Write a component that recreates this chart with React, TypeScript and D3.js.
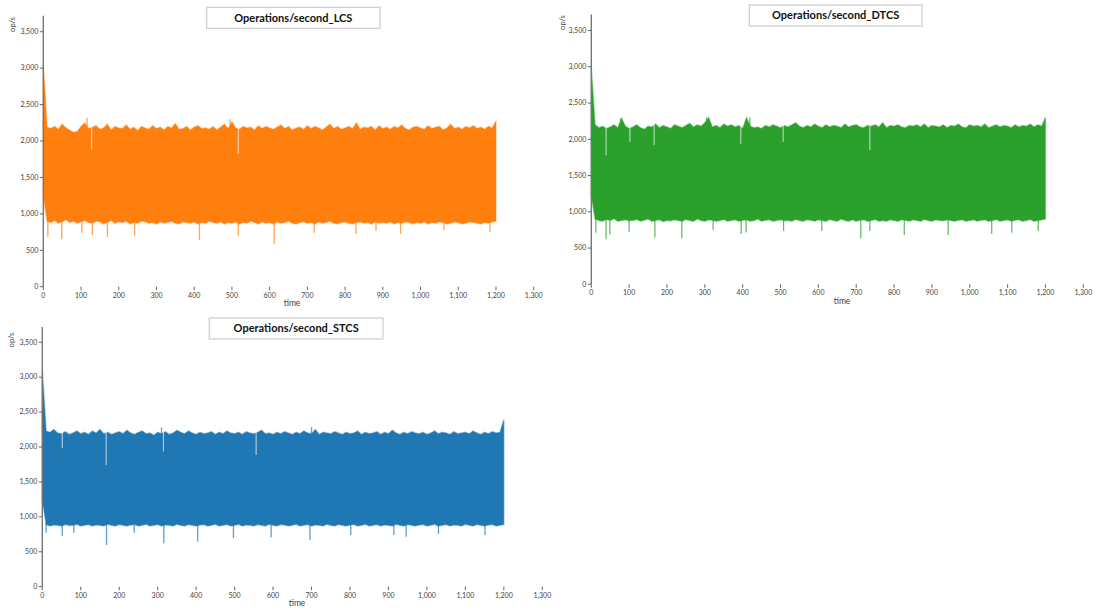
import React from 'react';
import * as d3 from 'd3';

// ---------- DATA ----------
// bucket times, seconds (one envelope value every 10 s)
const BUCKET_TIMES: number[] = d3.range(0, 1201, 10);
const X_TICKS = [0, 100, 200, 300, 400, 500, 600, 700, 800, 900, 1000, 1100, 1200, 1300];
const Y_TICKS = [0, 500, 1000, 1500, 2000, 2500, 3000, 3500];

// LCS
const LCS_HIGH = [
  3050, 2190, 2170, 2200, 2160, 2230, 2180, 2150, 2120, 2130,
  2200, 2250, 2170, 2190, 2210, 2160, 2180, 2230, 2150, 2200,
  2180, 2170, 2220, 2160, 2190, 2140, 2200, 2180, 2160, 2210,
  2170, 2190, 2150, 2200, 2180, 2240, 2160, 2170, 2200, 2150,
  2190, 2210, 2170, 2180, 2160, 2200, 2150, 2190, 2230, 2170,
  2260, 2180, 2160, 2200, 2180, 2190, 2150, 2210, 2170, 2200,
  2180, 2160, 2190, 2220, 2170, 2200, 2150, 2180, 2190, 2160,
  2210, 2170, 2200, 2180, 2150, 2190, 2230, 2170, 2200, 2160,
  2180, 2200, 2170, 2250, 2160, 2190, 2180, 2200, 2150, 2210,
  2170, 2190, 2160, 2200, 2180, 2220, 2170, 2150, 2190, 2200,
  2180, 2160, 2210, 2170, 2190, 2200, 2150, 2180, 2230, 2170,
  2190, 2160, 2200, 2180, 2210, 2170, 2190, 2160, 2200, 2180,
  2270,
];
const LCS_LOW = [
  1250, 900, 880, 910, 870, 890, 920, 880, 900, 870,
  890, 910, 880, 870, 900, 890, 860, 880, 910, 870,
  890, 880, 900, 860, 880, 870, 900, 890, 870, 880,
  860, 890, 870, 880, 900, 870, 860, 890, 880, 870,
  890, 860, 880, 870, 900, 880, 870, 890, 860, 880,
  870, 890, 860, 880, 870, 900, 880, 860, 890, 870,
  880, 860, 890, 870, 880, 900, 870, 860, 880, 890,
  870, 880, 860, 890, 870, 880, 900, 870, 860, 880,
  890, 870, 860, 880, 890, 870, 880, 860, 890, 870,
  880, 870, 890, 860, 880, 870, 890, 880, 860, 880,
  870, 890, 860, 880, 870, 890, 880, 860, 870, 890,
  880, 860, 870, 890, 880, 870, 860, 880, 870, 890,
  900,
];
const LCS_SPIKES_DOWN: [number, number][] = [
  [12, 687], [49, 651], [102, 742], [130, 710], [170, 679], [242, 697], [414, 642],
  [517, 697], [612, 587], [718, 742], [829, 724], [882, 765], [947, 724], [1062, 779], [1184, 756],
];
const LCS_SPIKES_UP: [number, number][] = [[116, 2315], [495, 2300]];
const LCS_GAPS: [number, number][] = [[128, 1880], [517, 1830]];

// DTCS
const DTCS_HIGH = [
  2990, 2200, 2160, 2180, 2150, 2170, 2200, 2160, 2290, 2180,
  2150, 2170, 2200, 2160, 2140, 2180, 2170, 2210, 2160, 2190,
  2170, 2150, 2200, 2180, 2160, 2190, 2220, 2170, 2200, 2180,
  2230, 2300, 2170, 2190, 2160, 2210, 2180, 2200, 2170, 2190,
  2150, 2300, 2180, 2160, 2170, 2150, 2190, 2170, 2200, 2180,
  2160, 2190, 2170, 2200, 2230, 2180, 2160, 2190, 2170, 2210,
  2180, 2160, 2200, 2170, 2190, 2180, 2160, 2210, 2170, 2190,
  2200, 2170, 2160, 2190, 2180, 2200, 2170, 2230, 2160, 2190,
  2180, 2200, 2170, 2160, 2190, 2180, 2200, 2170, 2210, 2160,
  2190, 2180, 2170, 2200, 2160, 2190, 2180, 2210, 2170, 2160,
  2200, 2180, 2190, 2170, 2210, 2160, 2180, 2200, 2170, 2190,
  2180, 2160, 2200, 2170, 2190, 2180, 2210, 2170, 2200, 2180,
  2300,
];
const DTCS_LOW = [
  1220, 900, 880, 870, 895, 880, 905, 870, 880, 890,
  875, 880, 895, 870, 885, 900, 870, 880, 890, 865,
  880, 875, 890, 880, 870, 895, 880, 870, 900, 880,
  870, 890, 885, 870, 880, 895, 870, 880, 890, 870,
  885, 890, 870, 880, 900, 870, 885, 890, 870, 880,
  890, 875, 880, 870, 895, 880, 870, 890, 885, 870,
  890, 880, 870, 895, 880, 870, 900, 880, 870, 890,
  870, 885, 890, 870, 880, 895, 870, 880, 870, 890,
  880, 870, 890, 885, 870, 890, 880, 870, 895, 880,
  870, 890, 880, 875, 890, 880, 870, 885, 890, 870,
  880, 890, 870, 885, 890, 870, 880, 895, 870, 880,
  890, 870, 885, 890, 870, 880, 895, 870, 880, 890,
  900,
];
const DTCS_SPIKES_DOWN: [number, number][] = [
  [12, 711], [39, 620], [49, 688], [100, 724], [168, 647], [239, 633], [322, 748], [396, 693],
  [409, 715], [508, 734], [609, 734], [712, 633], [736, 734], [827, 679], [943, 679],
  [1058, 693], [1111, 711], [1181, 734],
];
const DTCS_SPIKES_UP: [number, number][] = [[78, 2290], [305, 2300], [419, 2300]];
const DTCS_GAPS: [number, number][] = [[39, 1780], [102, 1965], [166, 1920], [395, 1940], [507, 1965], [736, 1850]];

// STCS
const STCS_HIGH = [
  3105, 2230, 2210, 2250, 2200, 2190, 2220, 2180, 2200, 2230,
  2190, 2210, 2180, 2230, 2200, 2250, 2190, 2210, 2180, 2200,
  2220, 2190, 2240, 2200, 2180, 2210, 2230, 2190, 2200, 2170,
  2210, 2190, 2220, 2180, 2200, 2240, 2210, 2190, 2230, 2200,
  2180, 2210, 2190, 2200, 2220, 2180, 2210, 2190, 2230, 2200,
  2190, 2210, 2180, 2220, 2200, 2190, 2210, 2240, 2190, 2200,
  2180, 2210, 2190, 2220, 2200, 2180, 2210, 2190, 2230, 2200,
  2190, 2250, 2180, 2210, 2200, 2190, 2220, 2200, 2180, 2210,
  2190, 2200, 2230, 2180, 2210, 2190, 2200, 2220, 2180, 2210,
  2190, 2240, 2200, 2180, 2210, 2190, 2220, 2200, 2190, 2210,
  2180, 2200, 2230, 2190, 2210, 2200, 2180, 2220, 2190, 2200,
  2210, 2190, 2230, 2200, 2180, 2210, 2190, 2220, 2200, 2210,
  2390,
];
const STCS_LOW = [
  1240, 890, 870, 885, 880, 870, 890, 875, 880, 895,
  870, 880, 890, 870, 885, 880, 870, 895, 880, 870,
  890, 880, 870, 885, 890, 870, 880, 895, 870, 880,
  890, 870, 885, 880, 870, 895, 880, 870, 890, 880,
  870, 885, 890, 870, 880, 895, 870, 880, 890, 870,
  880, 895, 870, 885, 880, 870, 890, 880, 870, 895,
  880, 870, 890, 885, 870, 880, 895, 870, 880, 890,
  870, 885, 880, 870, 895, 880, 870, 890, 880, 870,
  885, 890, 870, 880, 895, 870, 880, 890, 870, 885,
  880, 870, 895, 880, 870, 890, 880, 870, 885, 890,
  870, 880, 895, 870, 880, 890, 870, 885, 880, 870,
  895, 880, 870, 890, 880, 870, 885, 890, 870, 880,
  890,
];
const STCS_SPIKES_DOWN: [number, number][] = [
  [10, 774], [52, 727], [82, 774], [167, 598], [239, 774], [316, 622], [404, 645], [497, 693],
  [595, 707], [696, 669], [802, 741], [914, 741], [946, 717], [1030, 755], [1151, 741],
];
const STCS_SPIKES_UP: [number, number][] = [[310, 2280], [700, 2285]];
const STCS_GAPS: [number, number][] = [[52, 1983], [166, 1744], [315, 1935], [556, 1887]];

// ---------- LAYOUT ----------
const PANELS = [
  {
    title: 'Operations/second_LCS', color: '#ff7f0e',
    high: LCS_HIGH, low: LCS_LOW, down: LCS_SPIKES_DOWN, up: LCS_SPIKES_UP, gaps: LCS_GAPS,
    x0: 43.3, x1: 533.7, yBottom: 286.7, yTop: 15.7,
    box: { x: 206.7, y: 7.3, w: 173.3, h: 21 },
    yLabel: { x: 13, y: 24.5 }, xLabel: { x: 292, y: 306 },
  },
  {
    title: 'Operations/second_DTCS', color: '#2ca02c',
    high: DTCS_HIGH, low: DTCS_LOW, down: DTCS_SPIKES_DOWN, up: DTCS_SPIKES_UP, gaps: DTCS_GAPS,
    x0: 591.3, x1: 1083.3, yBottom: 284.3, yTop: 14.6,
    box: { x: 749.3, y: 5, w: 172.7, h: 21 },
    yLabel: { x: 562.7, y: 22.5 }, xLabel: { x: 842, y: 304 },
  },
  {
    title: 'Operations/second_STCS', color: '#1f77b4',
    high: STCS_HIGH, low: STCS_LOW, down: STCS_SPIKES_DOWN, up: STCS_SPIKES_UP, gaps: STCS_GAPS,
    x0: 42.3, x1: 542.3, yBottom: 586.7, yTop: 326.9,
    box: { x: 209.3, y: 318, w: 173.7, h: 21 },
    yLabel: { x: 11.7, y: 340 }, xLabel: { x: 297, y: 605.5 },
  },
];

const fmt = d3.format(',');
const FONT = 'Lato, "Open Sans", sans-serif';

function Panel({ p }: { p: typeof PANELS[number] }) {
  const x = d3.scaleLinear().domain([0, 1300]).range([p.x0, p.x1]);
  const y = d3.scaleLinear().domain([0, 3720]).range([p.yBottom, p.yTop]);
  const rows = BUCKET_TIMES.map((t, i) => ({ t, hi: p.high[i], lo: p.low[i] }));
  const area = d3.area<{ t: number; hi: number; lo: number }>()
    .x(d => x(d.t)).y0(d => y(d.lo)).y1(d => y(d.hi));
  const at = (arr: number[], t: number) => arr[Math.min(arr.length - 1, Math.round(t / 10))];
  return (
    <g>
      <path d={area(rows) || ''} fill={p.color} stroke={p.color} strokeOpacity={0.4} strokeWidth={1.5} />
      {p.down.map(([t, v], i) => (
        <line key={'d' + i} x1={x(t)} x2={x(t)} y1={y(at(p.low, t) + 40)} y2={y(v)}
          stroke={p.color} strokeWidth={1.3} strokeOpacity={0.7} />
      ))}
      {p.up.map(([t, v], i) => (
        <line key={'u' + i} x1={x(t)} x2={x(t)} y1={y(at(p.high, t) - 40)} y2={y(v)}
          stroke={p.color} strokeWidth={1.3} strokeOpacity={0.7} />
      ))}
      {p.gaps.map(([t, v], i) => (
        <line key={'g' + i} x1={x(t)} x2={x(t)} y1={y(at(p.high, t) + 30)} y2={y(v)}
          stroke="#ffffff" strokeWidth={1.2} strokeOpacity={0.6} />
      ))}
      {/* y axis */}
      <line x1={p.x0} x2={p.x0} y1={p.yTop} y2={p.yBottom} stroke="#777" strokeWidth={1.4} />
      {Y_TICKS.map(v => (
        <g key={'y' + v}>
          <line x1={p.x0 - 3.5} x2={p.x0} y1={y(v)} y2={y(v)} stroke="#666" strokeWidth={1} />
          <text x={p.x0 - 5} y={y(v)} dy="0.33em" textAnchor="end" fontSize={7} fill="#444"
            fontFamily={FONT}>{fmt(v)}</text>
        </g>
      ))}
      {/* x axis */}
      {X_TICKS.map(v => (
        <g key={'x' + v}>
          <line x1={x(v)} x2={x(v)} y1={p.yBottom} y2={p.yBottom + 3.5} stroke="#666" strokeWidth={1} />
          <text x={x(v)} y={p.yBottom + 11} textAnchor="middle" fontSize={7} fill="#444"
            fontFamily={FONT}>{fmt(v)}</text>
        </g>
      ))}
      <text x={p.xLabel.x} y={p.xLabel.y} textAnchor="middle" fontSize={8.5} fill="#444" fontFamily={FONT}>time</text>
      <text transform={`translate(${p.yLabel.x},${p.yLabel.y}) rotate(-90)`} textAnchor="middle" dy="0.33em"
        fontSize={7.5} fill="#444" fontFamily={FONT}>op/s</text>
      {/* title box */}
      <rect x={p.box.x} y={p.box.y} width={p.box.w} height={p.box.h} fill="#fff" stroke="#cfcfcf" strokeWidth={1.3} />
      <text x={p.box.x + p.box.w / 2} y={p.box.y + p.box.h / 2} dy="0.35em" textAnchor="middle"
        fontSize={11} fontWeight={700} fill="#111" fontFamily={FONT}>{p.title}</text>
    </g>
  );
}

export default function App() {
  return (
    <svg width={1095} height={608} style={{ position: 'absolute', left: 0, top: 0, background: '#fff' }}>
      <rect x={0} y={0} width={1095} height={608} fill="#fff" />
      {PANELS.map(p => <Panel key={p.title} p={p} />)}
    </svg>
  );
}
